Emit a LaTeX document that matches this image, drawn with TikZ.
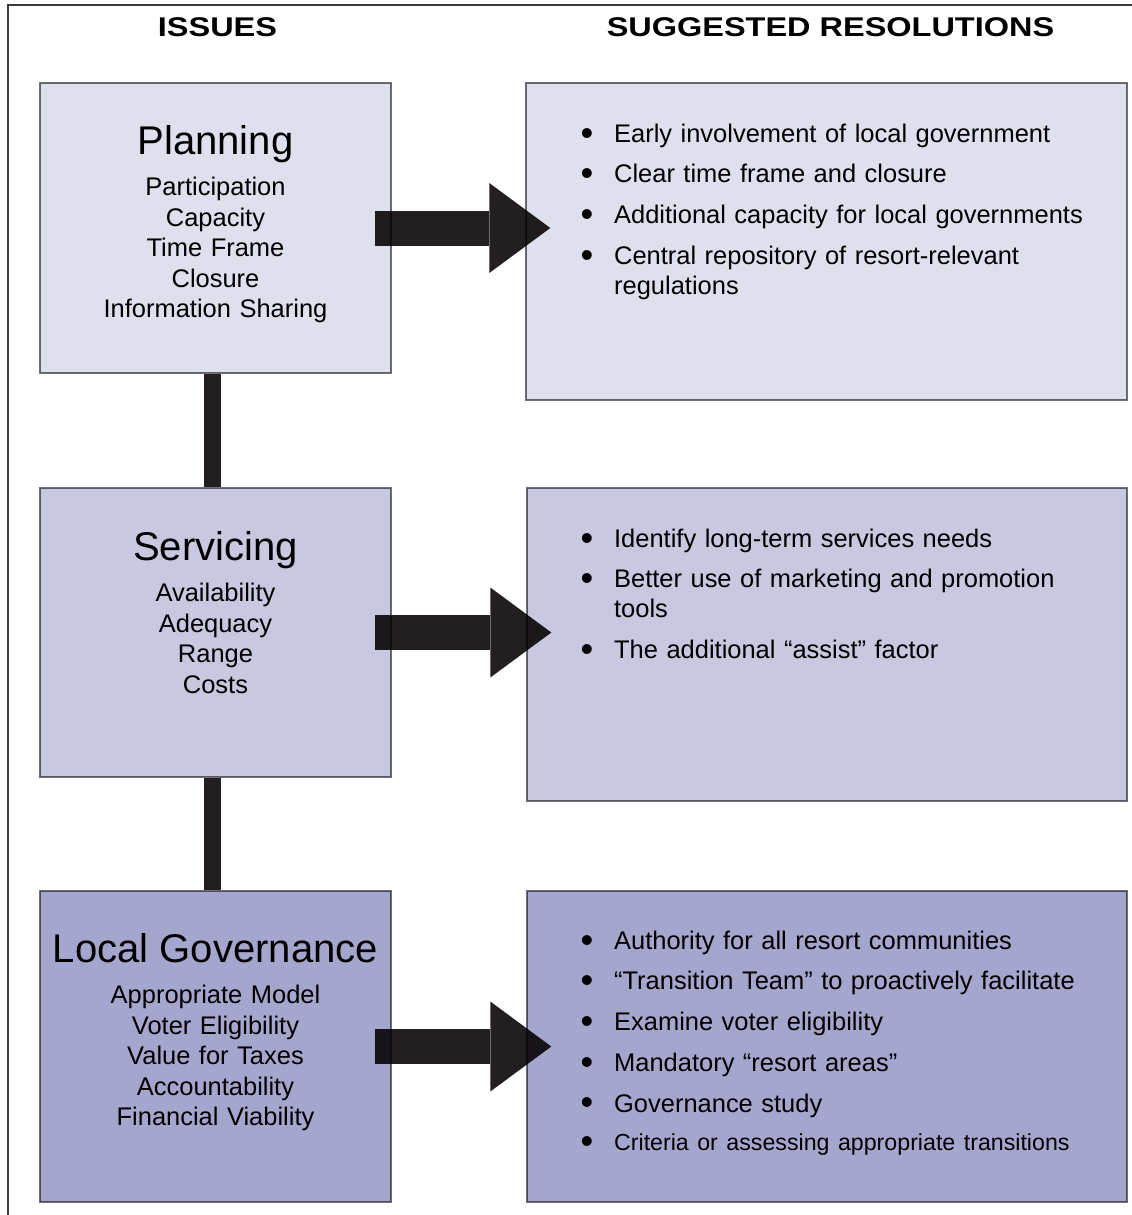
\documentclass[tikz,border=0pt]{standalone}
\usepackage{fontspec}
\setmainfont{Liberation Sans}
\newfontfamily\headfont[FakeStretch=1.2]{Liberation Sans}
\usetikzlibrary{arrows.meta,backgrounds,positioning}
\definecolor{planfill}{RGB}{223,224,238}
\definecolor{servfill}{RGB}{200,200,224}
\definecolor{govfill}{RGB}{165,166,205}
\definecolor{edgegray}{RGB}{112,112,117}
\definecolor{framegray}{RGB}{60,60,60}
\definecolor{inkblack}{RGB}{35,31,32}
\newlength{\bulind}
\setlength{\bulind}{19.06pt}
\newcommand{\resdot}{\raisebox{-1.65pt}{\fontsize{20.6}{0}\selectfont\textbullet}}
\newcommand{\resitem}[1]{\hangindent=\bulind\hangafter=1\makebox[\bulind][l]{\resdot}#1\par}
\tikzset{
	issue/.style={
		draw = edgegray,
		line width = 0.03cm,
		minimum width = 7.02cm,
		inner sep = 0
	},
	resolution/.style={
		draw = edgegray,
		line width = 0.03cm,
		minimum width = 12cm,
		inner sep = 0
	},
	heading/.style={
		anchor = base,
		inner sep = 0,
		font = \fontsize{22.8}{27}\selectfont
	},
	items/.style={
		anchor = base,
		inner sep = 0,
		text width = 7cm,
		align = center,
		font = \fontsize{14.5}{17.35}\selectfont
	},
	bullets/.style={
		anchor = base west,
		inner sep = 0,
		text width = 10.6cm,
		align = left,
		font = \fontsize{14.5}{17.07}\selectfont
	},
	header/.style={
		anchor = base,
		inner sep = 0,
		font = \headfont\bfseries\fontsize{15.4}{18}\selectfont
	},
	link/.style={
		draw = inkblack,
		line width = 0.334cm
	},
	bigarrow/.style={
		draw = inkblack,
		line width = 0.7cm,
		-{Triangle[length=1.22cm, width=1.8cm, line width=0pt]}
	},
	frame/.style={
		draw = framegray,
		line width = 0.03cm
	},
}
\begin{document}
\begin{tikzpicture}[x=0.02cm, y=-0.02cm]
	\useasboundingbox (0,0) rectangle (1132,1215);
	\draw[frame] (8,1215) -- (8,5) -- (1132,5);
	\node[header] (issues) at (217.5,36) {ISSUES};
	\node[header] (resolutions) at (830.5,36) {SUGGESTED RESOLUTIONS};
	\begin{scope}[blend mode=multiply]
		\node[issue, fill=planfill, minimum height=5.8cm] (plan) at (215.5,228) {};
		\node[issue, fill=servfill, minimum height=5.78cm] (serv) at (215.5,632.5) {};
		\node[issue, fill=govfill, minimum height=6.22cm] (gov) at (215.5,1046.5) {};
		\node[resolution, fill=planfill, minimum width=12.02cm, minimum height=6.34cm] (res1) at (826.5,241.5) {};
		\node[resolution, fill=servfill, minimum height=6.26cm] (res2) at (827,644.5) {};
		\node[resolution, fill=govfill, minimum height=6.22cm] (res3) at (827,1046.5) {};
	\end{scope}
	% issues
	\node[heading] (plan-title) at ([yshift=-1.44cm]plan.north) {Planning};
	\node[items] (plan-items) at ([yshift=-0.834cm]plan-title.base) {Participation\\Capacity\\Time Frame\\Closure\\Information Sharing};
	\node[heading] (serv-title) at ([yshift=-1.46cm]serv.north) {Servicing};
	\node[items] (serv-items) at ([yshift=-0.834cm]serv-title.base) {Availability\\Adequacy\\Range\\Costs};
	\node[heading] (gov-title) at ([yshift=-1.44cm]gov.north) {Local Governance};
	\node[items] (gov-items) at ([yshift=-0.834cm]gov-title.base) {Appropriate Model\\Voter Eligibility\\Value for Taxes\\Accountability\\Financial Viability};
	% resolutions
	\node[bullets] (res1-list) at ([xshift=1.1cm, yshift=-1.2cm]res1.north west) {\setlength{\parskip}{6.09pt}%
		\resitem{Early involvement of local government}
		\resitem{Clear time frame and closure}
		\resitem{Additional capacity for local governments}
		\resitem{Central repository of resort-relevant\newline regulations}
	};
	\node[bullets] (res2-list) at ([xshift=1.08cm, yshift=-1.2cm]res2.north west) {\setlength{\parskip}{6.09pt}%
		\resitem{Identify long-term services needs}
		\resitem{Better use of marketing and promotion\newline tools}
		\resitem{The additional “assist” factor}
	};
	\node[bullets] (res3-list) at ([xshift=1.08cm, yshift=-1.18cm]res3.north west) {\setlength{\parskip}{6.09pt}%
		\resitem{Authority for all resort communities}
		\resitem{“Transition Team” to proactively facilitate}
		\resitem{Examine voter eligibility}
		\resitem{Mandatory “resort areas”}
		\resitem{Governance study}
		\resitem{\fontsize{13.2}{15.7}\selectfont Criteria or assessing appropriate transitions}
	};
	\begin{scope}[on background layer]
		\foreach \a/\b in {plan/serv, serv/gov}
			\draw[link] ([xshift=-0.06cm]\a.south) -- ([xshift=-0.06cm]\b.north);
		\foreach \a/\b in {plan/res1, serv/res2, gov/res3}
			\draw[bigarrow, shorten >=-0.5cm] ([xshift=-0.34cm]\a.east) -- (\a.east -| \b.west);
	\end{scope}
\end{tikzpicture}
\end{document}
